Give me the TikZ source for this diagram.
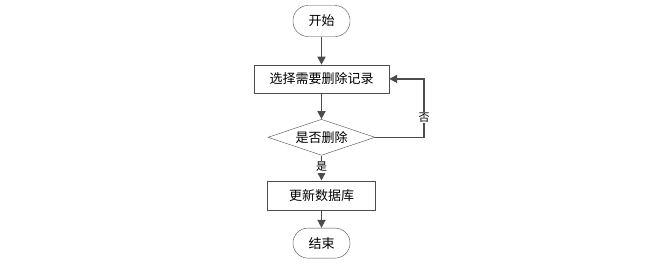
\documentclass[tikz,border=0pt]{standalone}
\usepackage{fontspec}
\newfontfamily\cjk{Noto Sans CJK SC}
\usetikzlibrary{arrows.meta, positioning, shapes.geometric}

\begin{document}
\begin{tikzpicture}[
font=\cjk\fontsize{13}{15}\selectfont,
box/.style={draw=black!70, rectangle, align=center, minimum width=135pt, minimum height=28pt, inner sep=0pt},
term/.style={draw=black!70, rectangle, rounded corners=15pt, minimum width=57pt, minimum height=31pt, inner sep=0pt},
decide/.style={draw=black!70, diamond, aspect=3, minimum width=107pt, minimum height=36pt, inner sep=0pt},
arrow/.style={-{Triangle[length=8pt,width=8pt]}, draw=black!70, line width=1.6pt},
lbl/.style={fill=white, inner sep=1pt, font=\cjk\fontsize{11}{13}\selectfont}
]
\useasboundingbox (0,0) rectangle (651pt,-263pt);

\node[term] (start) at (321.5pt,-21pt)
{开始};

\node[box, below=28pt of start] (choose)
{选择需要删除记录};

\node[decide, below=26pt of choose] (ask)
{是否删除};

\node[box, minimum width=108pt, minimum height=29pt, below=25pt of ask] (update)
{更新数据库};

\node[term, minimum height=30pt, below=18pt of update] (stop)
{结束};

\draw[arrow] (start) -- (choose);
\draw[arrow] (choose) -- (ask);
\draw[arrow] (ask) -- node[lbl, pos=0.45] {是} (update);
\draw[arrow] (update) -- (stop);
\draw[arrow] (ask.east) -- ++(49pt,0) |- node[lbl, pos=0.17] {否} (choose.east);

\end{tikzpicture}
\end{document}
